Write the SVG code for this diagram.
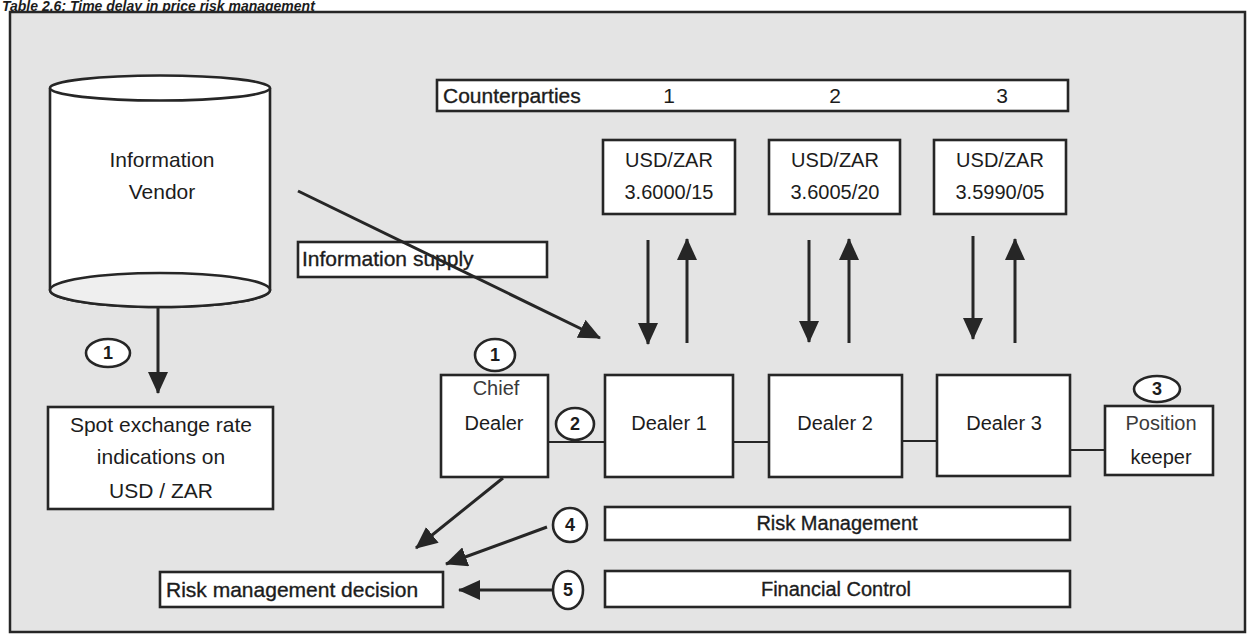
<svg xmlns="http://www.w3.org/2000/svg" width="1251" height="636" viewBox="0 0 1251 636">
  <style>
    .frame { fill: #e4e4e4; stroke: #262626; stroke-width: 2.5; }
    .box { fill: #ffffff; stroke: #262626; stroke-width: 2.6; }
    .txt { font-family: "Liberation Sans", Arial, sans-serif; fill: #1c1c1c; }
    .lbl { font-size: 20px; text-anchor: middle; }
    .big { font-size: 21px; }
    .mid { text-anchor: middle; }
    .soft { fill: #3a3a3a; }
    .heavy { stroke: #1c1c1c; stroke-width: 0.35; }
    .num { fill: #ffffff; stroke: #262626; stroke-width: 2.6; }
    .numtxt { font-family: "Liberation Sans", Arial, sans-serif; font-size: 18px; font-weight: bold; text-anchor: middle; fill: #1c1c1c; }
    .conn { stroke: #262626; stroke-width: 3; fill: none; }
    .link { stroke: #262626; stroke-width: 2.2; fill: none; }
  </style>
  <defs>
    <marker id="head" viewBox="0 0 22 20" refX="21" refY="10" markerWidth="22" markerHeight="20" markerUnits="userSpaceOnUse" orient="auto">
      <path d="M0,0 L22,10 L0,20 z" fill="#262626"/>
    </marker>
  </defs>

  <rect width="1251" height="636" fill="#ffffff"/>
  <text class="txt" x="2" y="11" font-size="14" font-style="italic" font-weight="bold">Table 2.6: Time delay in price risk management</text>
  <rect class="frame" x="10" y="12" width="1235" height="620"/>

  <!-- cylinder store -->
  <g id="vendor">
    <path class="box" d="M50,88 L50,290 A110,17 0 0 0 270,290 L270,88"/>
    <ellipse cx="160" cy="290" rx="110" ry="17" fill="#efefef" stroke="#262626" stroke-width="2.6"/>
    <ellipse class="box" cx="160" cy="88" rx="110" ry="12.5"/>
    <text class="txt lbl big" x="162" y="167">Information</text>
    <text class="txt lbl big" x="162" y="199">Vendor</text>
  </g>

  <g id="spot">
    <rect class="box" x="48" y="407" width="225" height="102"/>
    <text class="txt lbl big" x="161" y="432">Spot exchange rate</text>
    <text class="txt lbl big" x="161" y="464">indications on</text>
    <text class="txt lbl big" x="161" y="498">USD / ZAR</text>
  </g>

  <g id="counterparties">
    <rect class="box" x="437" y="80" width="631" height="31"/>
    <text class="txt big heavy" x="443" y="103">Counterparties</text>
    <text class="txt big mid" x="669" y="103">1</text>
    <text class="txt big mid" x="835" y="103">2</text>
    <text class="txt big mid" x="1002" y="103">3</text>
  </g>

  <g id="quote1">
    <rect class="box" x="603" y="140" width="132" height="74"/>
    <text class="txt lbl" font-size="22" x="669" y="167">USD/ZAR</text>
    <text class="txt lbl" font-size="22" x="669" y="199">3.6000/15</text>
  </g>
  <g id="quote2">
    <rect class="box" x="769" y="140" width="131" height="74"/>
    <text class="txt lbl" font-size="22" x="835" y="167">USD/ZAR</text>
    <text class="txt lbl" font-size="22" x="835" y="199">3.6005/20</text>
  </g>
  <g id="quote3">
    <rect class="box" x="934" y="140" width="132" height="74"/>
    <text class="txt lbl" font-size="22" x="1000" y="167">USD/ZAR</text>
    <text class="txt lbl" font-size="22" x="1000" y="199">3.5990/05</text>
  </g>

  <g id="supply">
    <rect class="box" x="298" y="242" width="249" height="35"/>
    <text class="txt big heavy" x="302" y="266">Information supply</text>
  </g>

  <!-- connectors -->
  <g id="connectors">
    <line class="link" x1="548" y1="442" x2="605" y2="442"/>
    <line class="link" x1="733" y1="442" x2="769" y2="442"/>
    <line class="link" x1="902" y1="441" x2="937" y2="441"/>
    <line class="link" x1="1070" y1="450" x2="1105" y2="450"/>
    <line class="conn" x1="158" y1="308" x2="158" y2="393" marker-end="url(#head)"/>
    <line class="conn" x1="298" y1="191" x2="600" y2="338" marker-end="url(#head)"/>
    <line class="conn" x1="648" y1="240" x2="648" y2="344" marker-end="url(#head)"/>
    <line class="conn" x1="687" y1="343" x2="687" y2="239" marker-end="url(#head)"/>
    <line class="conn" x1="809" y1="240" x2="809" y2="342" marker-end="url(#head)"/>
    <line class="conn" x1="849" y1="343" x2="849" y2="239" marker-end="url(#head)"/>
    <line class="conn" x1="973" y1="236" x2="973" y2="339" marker-end="url(#head)"/>
    <line class="conn" x1="1015" y1="343" x2="1015" y2="239" marker-end="url(#head)"/>
    <line class="conn" x1="503" y1="478" x2="416" y2="548" marker-end="url(#head)"/>
    <line class="conn" x1="547" y1="527" x2="446" y2="564" marker-end="url(#head)"/>
    <line class="conn" x1="552" y1="590" x2="459" y2="590" marker-end="url(#head)"/>
  </g>

  <g id="chief">
    <rect class="box" x="441" y="375" width="107" height="102"/>
    <text class="txt lbl soft" x="496" y="395">Chief</text>
    <text class="txt lbl" x="494" y="430">Dealer</text>
  </g>
  <g id="dealer1">
    <rect class="box" x="605" y="375" width="128" height="102"/>
    <text class="txt lbl" x="669" y="430">Dealer 1</text>
  </g>
  <g id="dealer2">
    <rect class="box" x="769" y="375" width="133" height="102"/>
    <text class="txt lbl" x="835" y="430">Dealer 2</text>
  </g>
  <g id="dealer3">
    <rect class="box" x="937" y="375" width="133" height="101"/>
    <text class="txt lbl" x="1004" y="430">Dealer 3</text>
  </g>
  <g id="keeper">
    <rect class="box" x="1105" y="406" width="108" height="69"/>
    <text class="txt lbl soft" font-size="19" x="1161" y="430">Position</text>
    <text class="txt lbl" font-size="19" x="1161" y="464">keeper</text>
  </g>

  <g id="risk-management">
    <rect class="box" x="605" y="507" width="465" height="33"/>
    <text class="txt lbl heavy" x="837" y="530">Risk Management</text>
  </g>
  <g id="financial-control">
    <rect class="box" x="605" y="571" width="465" height="36"/>
    <text class="txt lbl heavy" x="836" y="596">Financial Control</text>
  </g>
  <g id="decision">
    <rect class="box" x="160" y="572" width="283" height="35"/>
    <text class="txt big heavy" x="166" y="597">Risk management decision</text>
  </g>

  <!-- step markers -->
  <g id="step1a"><ellipse class="num" cx="108" cy="353" rx="22" ry="14"/><text class="numtxt" x="108" y="359">1</text></g>
  <g id="step1b"><ellipse class="num" cx="495" cy="355" rx="20" ry="16"/><text class="numtxt" x="495" y="361">1</text></g>
  <g id="step2"><ellipse class="num" cx="575" cy="424" rx="19" ry="16"/><text class="numtxt" x="575" y="430">2</text></g>
  <g id="step3"><ellipse class="num" cx="1157" cy="389" rx="23" ry="13"/><text class="numtxt" x="1157" y="395">3</text></g>
  <g id="step4"><ellipse class="num" cx="570" cy="525" rx="17" ry="17"/><text class="numtxt" x="570" y="531">4</text></g>
  <g id="step5"><ellipse class="num" cx="568" cy="590" rx="15" ry="19"/><text class="numtxt" x="568" y="596">5</text></g>
</svg>
